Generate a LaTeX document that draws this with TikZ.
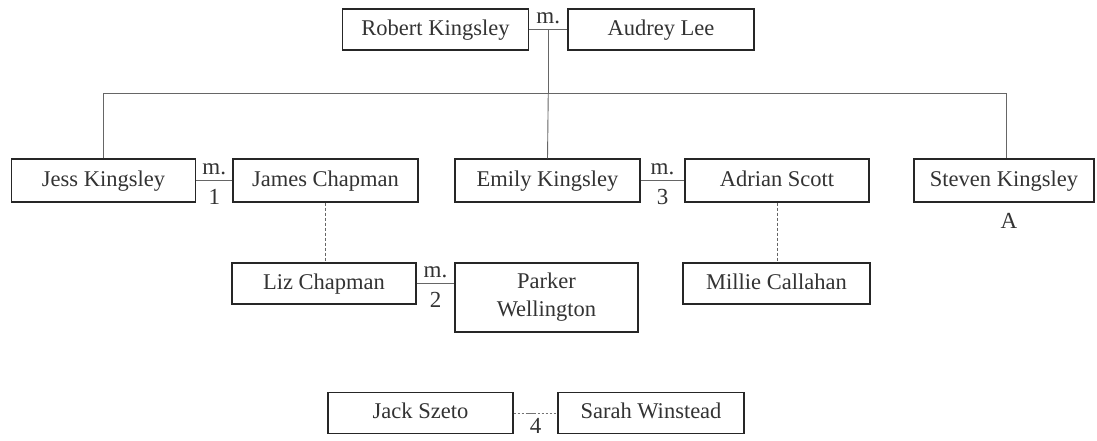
\documentclass[tikz,border=0pt]{standalone}
\usepackage{fontspec}
\setmainfont{Liberation Serif}
\begin{document}
\begin{tikzpicture}[x=1pt,y=-1pt,
  box/.style={draw=black!85,line width=1.4pt,fill=white,text=black!80,
    font=\fontsize{22.5}{28}\selectfont,inner sep=0pt,align=center},
  person/.style={box,text height=15pt,text depth=4pt},
  link/.style={draw=black!60,line width=0.9pt},
  desc/.style={draw=black!60,line width=0.9pt,dash pattern=on 3pt off 2pt},
  mlabel/.style={text=black!80,font=\fontsize{23}{24}\selectfont,inner sep=0pt}]
\useasboundingbox (0,0) rectangle (1097,440);
% people
\node[person,minimum width=186pt,minimum height=41pt] (rob) at (435.5,29.5) {Robert Kingsley};
\node[person,minimum width=186pt,minimum height=41pt] (aud) at (661,29.5) {Audrey Lee};
\node[person,minimum width=184pt,minimum height=43pt] (jess) at (103.5,180.5) {Jess Kingsley};
\node[person,minimum width=185pt,minimum height=43pt] (james) at (325.5,180.5) {James Chapman};
\node[person,minimum width=185pt,minimum height=43pt] (emily) at (547.5,180.5) {Emily Kingsley};
\node[person,minimum width=184pt,minimum height=43pt] (adrian) at (777,180.5) {Adrian Scott};
\node[person,minimum width=180pt,minimum height=43pt] (steven) at (1004,180.5) {Steven Kingsley};
\node[person,minimum width=184pt,minimum height=41pt] (liz) at (324,283.5) {Liz Chapman};
\node[box,minimum width=183pt,minimum height=69pt] (parker) at (546.5,297.5) {Parker\\Wellington};
\node[person,minimum width=187pt,minimum height=41pt] (millie) at (776.5,283.5) {Millie Callahan};
\node[person,minimum width=185pt,minimum height=41pt] (jack) at (420.5,413) {Jack Szeto};
\node[person,minimum width=186pt,minimum height=41pt] (sarah) at (651,413) {Sarah Winstead};
% top marriage
\draw[link] (rob.east) -- coordinate[midway] (m0) (aud.west);
\node[mlabel,anchor=base] (lm0) at ([yshift=6pt]m0) {m.};
\coordinate (bar) at (548,93);
\draw[link] (m0) -- (m0 |- bar);
\draw[link] (jess.north) -- (jess.north |- bar) -- ([xshift=2pt]steven.north |- bar) -- ([xshift=2pt]steven.north);
\draw[link] (m0 |- bar) -- (emily.north);
% marriage 1
\draw[link] (jess.east) -- coordinate[midway] (m1) (james.west);
\node[mlabel,anchor=base] (lm1) at ([yshift=6pt]m1) {m.};
\node[mlabel,anchor=base] (n1) at ([yshift=-24pt]m1) {1};
% marriage 3
\draw[link] (emily.east) -- coordinate[midway] (m3) (adrian.west);
\node[mlabel,anchor=base] (lm3) at ([yshift=6pt]m3) {m.};
\node[mlabel,anchor=base] (n3) at ([yshift=-24pt]m3) {3};
% marriage 2
\draw[link] (liz.east) -- coordinate[midway] (m2) (liz.east -| parker.west);
\node[mlabel,anchor=base] (lm2) at ([yshift=6pt]m2) {m.};
\node[mlabel,anchor=base] (n2) at ([yshift=-24pt]m2) {2};
% steven label
\node[mlabel,anchor=base] (sa) at ([xshift=5pt,yshift=-26pt]steven.south) {A};
% descent
\draw[desc] (james.south) -- (james.south |- liz.north);
\draw[desc] (adrian.south) -- (adrian.south |- millie.north);
% partnership 4
\draw[draw=black!55,line width=0.9pt,dash pattern=on 2pt off 2pt on 2pt off 2pt on 2pt off 2pt on 10pt off 2pt on 2pt off 2pt on 2pt off 2pt on 2pt off 2pt]
  (jack.east) -- coordinate[midway] (m4) (sarah.west);
\node[mlabel,anchor=base] (n4) at ([yshift=-20pt]m4) {4};
\end{tikzpicture}
\end{document}
